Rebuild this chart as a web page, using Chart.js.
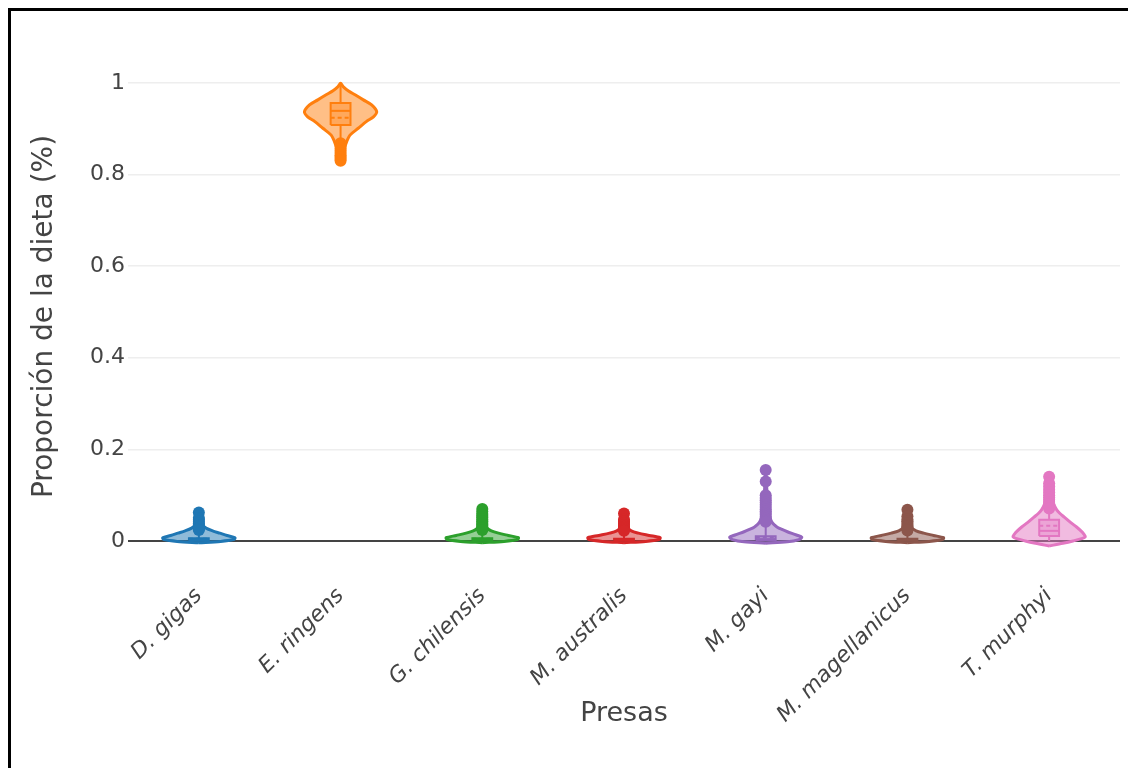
<!DOCTYPE html>
<html>
<head>
<meta charset="utf-8">
<script src="https://cdn.jsdelivr.net/npm/chart.js@4.4.1/dist/chart.umd.min.js"></script>
<style>
  html, body { margin: 0; padding: 0; background: #fff; overflow: hidden; }
  #frame { position: absolute; left: 8px; top: 8px; width: 1200px; height: 800px; border-left: 3px solid #000; border-top: 3px solid #000; }
  #violinChart { position: absolute; left: 0; top: 0; }
</style>
</head>
<body>
<div id="frame"><canvas id="violinChart" width="1117" height="757"></canvas></div>
<script>
const presas = ['D. gigas', 'E. ringens', 'G. chilensis', 'M. australis', 'M. gayi', 'M. magellanicus', 'T. murphyi'];
const yTicks = [0, 0.2, 0.4, 0.6, 0.8, 1];
const colors = ['#1f77b4', '#ff7f0e', '#2ca02c', '#d62728', '#9467bd', '#8c564b', '#e377c2'];

// violin outlines: diet proportion levels and relative half widths (1 = widest)
const gigasLevels = [-0.004, -0.001, 0.003, 0.007, 0.012, 0.017, 0.022, 0.028, 0.035, 0.045, 0.062];
const gigasWidths = [0, 0.6, 0.96, 1.0, 0.78, 0.58, 0.38, 0.2, 0.1, 0.05, 0];
const ringensLevels = [0.826, 0.84, 0.85, 0.861, 0.872, 0.886, 0.901, 0.916, 0.926, 0.937, 0.952, 0.963, 0.974, 0.983, 0.992, 0.999];
const ringensWidths = [0, 0.05, 0.08, 0.12, 0.17, 0.26, 0.49, 0.72, 0.91, 1.0, 0.86, 0.63, 0.4, 0.21, 0.07, 0];
const chilensisLevels = [-0.004, -0.001, 0.003, 0.007, 0.012, 0.017, 0.022, 0.028, 0.036, 0.05, 0.07];
const chilensisWidths = [0, 0.6, 0.97, 1.0, 0.72, 0.45, 0.25, 0.13, 0.07, 0.03, 0];
const australisLevels = [-0.004, -0.001, 0.003, 0.007, 0.012, 0.017, 0.022, 0.03, 0.04, 0.06];
const australisWidths = [0, 0.6, 0.97, 1.0, 0.7, 0.4, 0.2, 0.09, 0.04, 0];
const gayiLevels = [-0.005, -0.002, 0.003, 0.008, 0.013, 0.02, 0.025, 0.03, 0.035, 0.04, 0.05, 0.065, 0.08, 0.1, 0.13, 0.155];
const gayiWidths = [0, 0.6, 0.92, 1.0, 0.85, 0.6, 0.45, 0.32, 0.24, 0.18, 0.12, 0.08, 0.06, 0.04, 0.02, 0];
const magellanicusLevels = [-0.004, -0.001, 0.003, 0.007, 0.012, 0.017, 0.022, 0.03, 0.04, 0.068];
const magellanicusWidths = [0, 0.6, 0.97, 1.0, 0.72, 0.45, 0.24, 0.1, 0.04, 0];
const murphyiLevels = [-0.011, -0.005, 0.0, 0.005, 0.009, 0.015, 0.022, 0.031, 0.04, 0.052, 0.06, 0.068, 0.08, 0.1, 0.12, 0.142];
const murphyiWidths = [0, 0.38, 0.66, 0.9, 1.0, 0.96, 0.88, 0.75, 0.6, 0.42, 0.3, 0.21, 0.13, 0.07, 0.03, 0];

// box plot stats
const q1 = [0.001, 0.908, 0.001, 0.001, 0.002, 0.001, 0.011];
const median = [0.003, 0.939, 0.003, 0.002, 0.004, 0.002, 0.022];
const q3 = [0.006, 0.956, 0.006, 0.005, 0.01, 0.005, 0.046];
const mean = [0.005, 0.924, 0.005, 0.004, 0.008, 0.004, 0.033];
const whiskerLo = [0, 0.870, 0, 0, 0, 0, 0];
const whiskerHi = [0.022, 0.999, 0.022, 0.020, 0.040, 0.020, 0.068];

// outliers
const gigasPts = [0.062, 0.05, 0.046, 0.042, 0.038, 0.035, 0.032, 0.029, 0.026, 0.024];
const ringensPts = [0.868, 0.862, 0.857, 0.852, 0.847, 0.842, 0.838, 0.834, 0.83];
const chilensisPts = [0.07, 0.064, 0.059, 0.055, 0.051, 0.047, 0.043, 0.039, 0.036, 0.033, 0.03, 0.027, 0.024];
const australisPts = [0.06, 0.047, 0.043, 0.039, 0.035, 0.031, 0.028, 0.025, 0.022];
const gayiPts = [0.155, 0.13, 0.1, 0.094, 0.089, 0.084, 0.079, 0.074, 0.069, 0.065, 0.061, 0.057, 0.053, 0.049, 0.045, 0.042];
const magellanicusPts = [0.068, 0.054, 0.047, 0.043, 0.039, 0.035, 0.032, 0.029, 0.026, 0.023];
const murphyiPts = [0.14, 0.126, 0.119, 0.112, 0.106, 0.1, 0.095, 0.09, 0.085, 0.08, 0.075, 0.071];

const levels = [gigasLevels, ringensLevels, chilensisLevels, australisLevels, gayiLevels, magellanicusLevels, murphyiLevels];
const widths = [gigasWidths, ringensWidths, chilensisWidths, australisWidths, gayiWidths, magellanicusWidths, murphyiWidths];
const outliers = [gigasPts, ringensPts, chilensisPts, australisPts, gayiPts, magellanicusPts, murphyiPts];

const VW = 0.255;  // max violin half width, in category units
const BW = 0.07;   // box half width

function rgba(hex, a) {
  const n = parseInt(hex.slice(1), 16);
  return `rgba(${n >> 16}, ${(n >> 8) & 255}, ${n & 255}, ${a})`;
}

const datasets = [];
presas.forEach((name, i) => {
  const c = colors[i];
  const ys = levels[i];
  const ws = widths[i];
  const right = ys.map((y, k) => ({ x: i + ws[k] * VW, y }));
  const left = ys.map((y, k) => ({ x: i - ws[k] * VW, y })).reverse();
  datasets.push({
    label: name,
    data: right.concat(left.slice(1)),
    showLine: true,
    fill: 'shape',
    tension: 0.3,
    borderColor: c,
    borderWidth: 3,
    backgroundColor: rgba(c, 0.5),
    pointRadius: 0,
    order: 3
  });
  datasets.push({
    data: [
      { x: i - BW, y: q1[i] }, { x: i + BW, y: q1[i] },
      { x: i + BW, y: q3[i] }, { x: i - BW, y: q3[i] }, { x: i - BW, y: q1[i] }
    ],
    showLine: true,
    fill: 'shape',
    borderColor: c,
    borderWidth: 2,
    backgroundColor: rgba(c, 0.35),
    pointRadius: 0,
    order: 2
  });
  datasets.push({
    data: [{ x: i, y: whiskerLo[i] }, { x: i, y: q1[i] }],
    showLine: true, borderColor: c, borderWidth: 2, pointRadius: 0, order: 1
  });
  datasets.push({
    data: [{ x: i, y: q3[i] }, { x: i, y: whiskerHi[i] }],
    showLine: true, borderColor: c, borderWidth: 2, pointRadius: 0, order: 1
  });
  datasets.push({
    data: [{ x: i - BW, y: median[i] }, { x: i + BW, y: median[i] }],
    showLine: true, borderColor: c, borderWidth: 2, pointRadius: 0, order: 1
  });
  datasets.push({
    data: [{ x: i - BW, y: mean[i] }, { x: i + BW, y: mean[i] }],
    showLine: true, borderColor: c, borderWidth: 2, borderDash: [4, 3], pointRadius: 0, order: 1
  });
  datasets.push({
    data: outliers[i].map(v => ({ x: i, y: v })),
    showLine: false,
    pointRadius: 6,
    pointBorderWidth: 0,
    pointBackgroundColor: c,
    pointBorderColor: c,
    order: 0
  });
});

const fontFamily = "'DejaVu Sans', verdana, arial, sans-serif";

const ctx = document.getElementById('violinChart').getContext('2d');
new Chart(ctx, {
  type: 'scatter',
  data: { datasets },
  options: {
    responsive: false,
    animation: false,
    events: [],
    layout: { padding: { top: 49, right: 8, left: 0, bottom: 0 } },
    plugins: { legend: { display: false }, tooltip: { enabled: false } },
    scales: {
      x: {
        type: 'linear',
        min: -0.5,
        max: 6.5,
        afterBuildTicks: (scale) => { scale.ticks = presas.map((p, i) => ({ value: i })); },
        afterFit: (scale) => { scale.height = 195; },
        grid: { display: false, drawTicks: false },
        border: { display: false },
        ticks: {
          autoSkip: false,
          maxRotation: 45,
          minRotation: 45,
          padding: 10,
          color: '#444',
          font: { family: fontFamily, size: 22, style: 'italic' },
          callback: (v) => presas[v]
        },
        title: {
          display: true,
          text: 'Presas',
          color: '#444',
          font: { family: fontFamily, size: 27 },
          padding: { top: 0, bottom: 38 }
        }
      },
      y: {
        min: -0.07,
        max: 1.05,
        afterBuildTicks: (scale) => { scale.ticks = yTicks.map(v => ({ value: v })); },
        afterFit: (scale) => { scale.width = 117; },
        grid: {
          drawTicks: false,
          color: (c) => (c.tick && c.tick.value === 0 ? '#444' : '#eeeeee'),
          lineWidth: (c) => (c.tick && c.tick.value === 0 ? 2 : 1.5)
        },
        border: { display: false },
        ticks: {
          padding: 3,
          color: '#444',
          font: { family: fontFamily, size: 22 },
          callback: (v) => String(v)
        },
        title: {
          display: true,
          text: 'Proporción de la dieta (%)',
          color: '#444',
          font: { family: fontFamily, size: 28 },
          padding: { top: 17, bottom: 0 }
        }
      }
    }
  }
});
</script>
</body>
</html>
